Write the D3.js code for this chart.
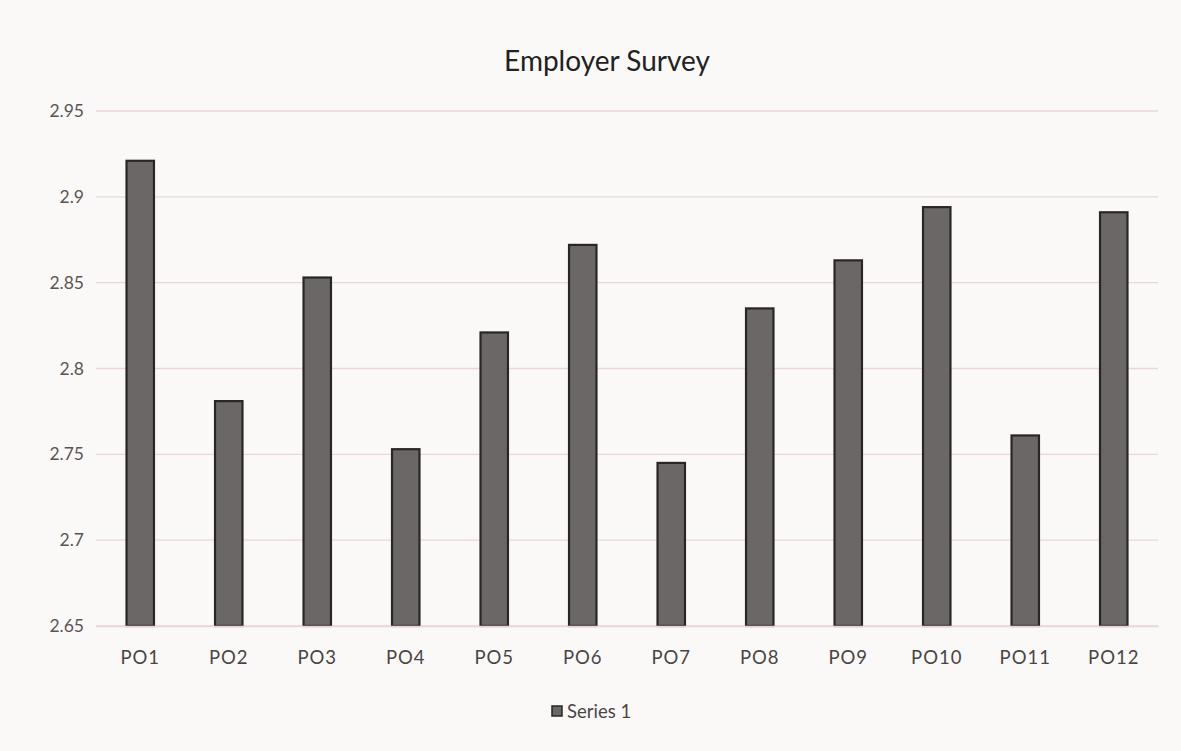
<!DOCTYPE html>
<html>
<head>
<meta charset="utf-8">
<script src="https://cdn.jsdelivr.net/npm/d3@7"></script>
<style>
  html, body { margin: 0; padding: 0; background: #faf9f7; }
  svg { display: block; }
</style>
</head>
<body>
<svg id="chart" width="1181" height="751"></svg>
<script>
const title = "Employer Survey";
const seriesName = "Series 1";
const categories = ["PO1","PO2","PO3","PO4","PO5","PO6","PO7","PO8","PO9","PO10","PO11","PO12"];
const values = [2.921, 2.781, 2.853, 2.753, 2.821, 2.872, 2.745, 2.835, 2.863, 2.894, 2.761, 2.891];
const yTicks = [2.65, 2.7, 2.75, 2.8, 2.85, 2.9, 2.95];

const svg = d3.select("#chart");
const W = 1181, H = 751;
const m = { top: 111, right: 23, bottom: 125, left: 96 };
const iw = W - m.left - m.right, ih = H - m.top - m.bottom;
const font = "Lato, 'Open Sans', sans-serif";

svg.append("rect").attr("width", W).attr("height", H).attr("fill", "#faf9f7");

const x = d3.scaleBand().domain(categories).range([m.left, m.left + iw]).paddingInner(0.69).paddingOuter(0.345);
const y = d3.scaleLinear().domain([2.65, 2.95]).range([m.top + ih, m.top]);

// gridlines
svg.append("g").selectAll("line").data(yTicks).join("line")
  .attr("x1", m.left).attr("x2", m.left + iw)
  .attr("y1", d => y(d)).attr("y2", d => y(d))
  .attr("stroke", "#ead6d8").attr("stroke-width", 1.3);

// y axis labels
const yAxis = d3.axisLeft(y).tickValues(yTicks).tickSize(0).tickPadding(12).tickFormat(d => d3.format("")(+d.toFixed(2)));
const gy = svg.append("g").attr("transform", `translate(${m.left},0)`).call(yAxis);
gy.select(".domain").remove();
gy.selectAll("text").attr("font-family", font).attr("font-size", 17.5).attr("fill", "#5a5555");

// bars
svg.append("g").selectAll("rect").data(values).join("rect")
  .attr("x", (d, i) => x(categories[i]))
  .attr("width", x.bandwidth())
  .attr("y", d => y(d))
  .attr("height", d => y(2.65) - y(d))
  .attr("fill", "#6a6766")
  .attr("stroke", "#2a2626")
  .attr("stroke-width", 2.2);

// x axis labels
const xAxis = d3.axisBottom(x).tickSize(0).tickPadding(25);
const gx = svg.append("g").attr("transform", `translate(0,${m.top + ih})`).call(xAxis);
gx.select(".domain").attr("stroke", "#ead6d8").attr("stroke-width", 1.3);
gx.selectAll("text").attr("font-family", font).attr("font-size", 18.5).attr("fill", "#4a4545")
  .attr("letter-spacing", 1);

// title
svg.append("text").attr("x", 607).attr("y", 71).attr("text-anchor", "middle")
  .attr("font-family", font).attr("font-size", 28).attr("fill", "#222")
  .text(title);

// legend
const lg = svg.append("g").attr("transform", "translate(556,712)");
lg.append("rect").attr("x", -4).attr("y", -6).attr("width", 10).attr("height", 10)
  .attr("fill", "#6a6766").attr("stroke", "#2a2626").attr("stroke-width", 1.5);
lg.append("text").attr("x", 11).attr("y", 6).attr("font-family", font).attr("font-size", 18.5)
  .attr("fill", "#4a4545").text(seriesName);
</script>
</body>
</html>
